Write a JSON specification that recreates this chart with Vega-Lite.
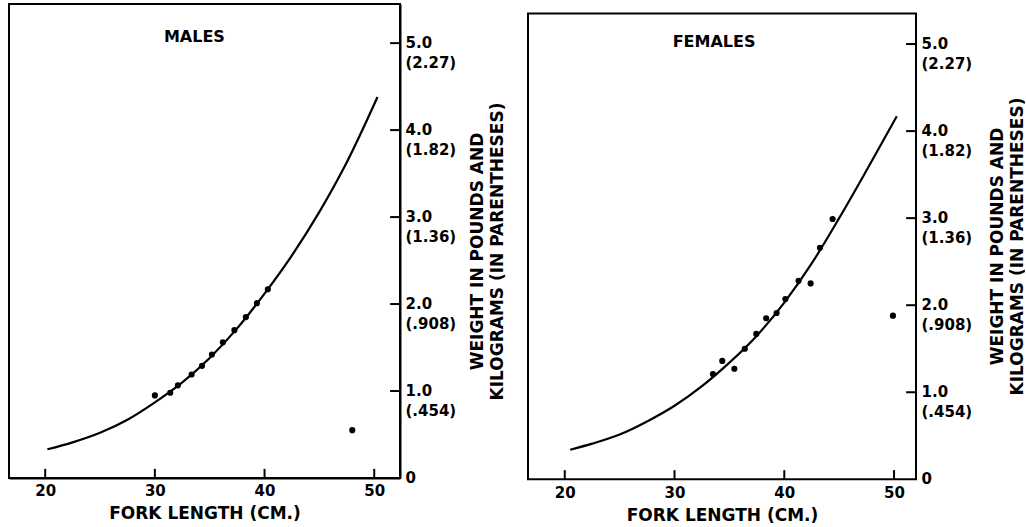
{
  "$schema": "https://vega.github.io/schema/vega-lite/v6.json",
  "background": "white",
  "padding": {"left": 8, "top": 3, "right": 0, "bottom": 0},
  "spacing": 21,
  "config": {
    "font": "DejaVu Sans",
    "view": {"stroke": "black", "strokeWidth": 2},
    "axis": {
      "grid": false,
      "ticks": false,
      "tickSize": 0,
      "domainColor": "black",
      "domainWidth": 2,
      "labelColor": "black",
      "labelFont": "DejaVu Sans",
      "labelFontSize": 15,
      "labelFontWeight": "bold",
      "labelOverlap": false,
      "labelBound": false,
      "labelFlush": false,
      "titleColor": "black",
      "titleFont": "DejaVu Sans",
      "titleFontSize": 17,
      "titleFontWeight": "bold"
    }
  },
  "datasets": {
    "maleCurve": [
      {"length": 20.2, "weight": 0.33}, {"length": 22.5, "weight": 0.41}, {"length": 25.0, "weight": 0.52},
      {"length": 27.5, "weight": 0.67}, {"length": 30.0, "weight": 0.87}, {"length": 32.5, "weight": 1.10},
      {"length": 35.0, "weight": 1.38}, {"length": 37.5, "weight": 1.72}, {"length": 40.0, "weight": 2.12},
      {"length": 42.5, "weight": 2.56}, {"length": 45.0, "weight": 3.06}, {"length": 47.5, "weight": 3.63},
      {"length": 50.3, "weight": 4.38}
    ],
    "malePts": [
      {"length": 30.0, "weight": 0.95}, {"length": 31.4, "weight": 0.98}, {"length": 32.1, "weight": 1.065},
      {"length": 33.35, "weight": 1.19}, {"length": 34.3, "weight": 1.29}, {"length": 35.2, "weight": 1.42},
      {"length": 36.2, "weight": 1.56}, {"length": 37.25, "weight": 1.70}, {"length": 38.3, "weight": 1.85},
      {"length": 39.3, "weight": 2.01}, {"length": 40.3, "weight": 2.17}, {"length": 48.0, "weight": 0.55}
    ],
    "femaleCurve": [
      {"length": 20.5, "weight": 0.34}, {"length": 22.5, "weight": 0.41}, {"length": 25.0, "weight": 0.515},
      {"length": 27.5, "weight": 0.665}, {"length": 30.0, "weight": 0.845}, {"length": 32.5, "weight": 1.07},
      {"length": 35.0, "weight": 1.34}, {"length": 37.5, "weight": 1.65}, {"length": 40.0, "weight": 2.03},
      {"length": 42.5, "weight": 2.48}, {"length": 45.0, "weight": 3.00}, {"length": 47.5, "weight": 3.55},
      {"length": 50.25, "weight": 4.17}
    ],
    "femalePts": [
      {"length": 33.5, "weight": 1.21}, {"length": 34.35, "weight": 1.36}, {"length": 35.45, "weight": 1.27},
      {"length": 36.4, "weight": 1.50}, {"length": 37.45, "weight": 1.67}, {"length": 38.35, "weight": 1.85},
      {"length": 39.3, "weight": 1.91}, {"length": 40.1, "weight": 2.07}, {"length": 41.3, "weight": 2.28},
      {"length": 42.4, "weight": 2.25}, {"length": 43.25, "weight": 2.66}, {"length": 44.4, "weight": 2.99},
      {"length": 49.9, "weight": 1.88}
    ],
    "xTicks": [{"length": 20}, {"length": 30}, {"length": 40}, {"length": 50}],
    "yTicks": [{"weight": 1}, {"weight": 2}, {"weight": 3}, {"weight": 4}, {"weight": 5}]
  },
  "hconcat": [
    {
      "width": 391,
      "height": 474,
      "resolve": {"axis": {"x": "independent", "y": "independent"}},
      "layer": [
        {
          "data": {"name": "maleCurve"},
          "mark": {"type": "line", "color": "black", "strokeWidth": 2.2, "interpolate": "monotone"},
          "encoding": {
            "x": {"field": "length", "type": "quantitative", "scale": {"domain": [16.7, 52.35], "nice": false, "zero": false},
                  "axis": {"orient": "bottom", "title": "FORK LENGTH (CM.)", "values": [20, 30, 40, 50],
                           "labelBaseline": "top", "labelPadding": 5, "titlePadding": 7}},
            "y": {"field": "weight", "type": "quantitative", "scale": {"domain": [0, 5.45], "nice": false, "zero": false},
                  "axis": {"orient": "right", "values": [0, 1, 2, 3, 4, 5],
                           "labelBaseline": "top", "labelOffset": -7.5, "labelPadding": 5, "labelAlign": "left", "labelLineHeight": 20,
                           "title": ["WEIGHT IN POUNDS AND", "KILOGRAMS (IN PARENTHESES)"],
                           "titleAngle": 270, "titleBaseline": "top", "titleLineHeight": 20, "titleX": 69, "titleY": 247,
                           "labelExpr": "datum.value == 0 ? '0' : [format(datum.value, '.1f'), datum.value == 1 ? '(.454)' : datum.value == 2 ? '(.908)' : datum.value == 3 ? '(1.36)' : datum.value == 4 ? '(1.82)' : '(2.27)']"}}
          }
        },
        {
          "data": {"name": "xTicks"},
          "mark": {"type": "rule", "color": "black", "strokeWidth": 2},
          "encoding": {
            "x": {"field": "length", "type": "quantitative", "scale": {"domain": [16.7, 52.35], "nice": false, "zero": false}, "axis": null},
            "y": {"datum": 0, "type": "quantitative", "scale": {"domain": [0, 5.45], "nice": false, "zero": false}, "axis": null},
            "y2": {"datum": 0.105}
          }
        },
        {
          "data": {"name": "yTicks"},
          "mark": {"type": "rule", "color": "black", "strokeWidth": 2},
          "encoding": {
            "y": {"field": "weight", "type": "quantitative", "scale": {"domain": [0, 5.45], "nice": false, "zero": false}, "axis": null},
            "x": {"datum": 51.45, "type": "quantitative", "scale": {"domain": [16.7, 52.35], "nice": false, "zero": false}, "axis": null},
            "x2": {"datum": 52.35}
          }
        },
        {
          "data": {"name": "malePts"},
          "mark": {"type": "circle", "color": "black", "opacity": 1, "size": 38},
          "encoding": {
            "x": {"field": "length", "type": "quantitative", "scale": {"domain": [16.7, 52.35], "nice": false, "zero": false}, "axis": null},
            "y": {"field": "weight", "type": "quantitative", "scale": {"domain": [0, 5.45], "nice": false, "zero": false}, "axis": null}
          }
        },
        {
          "data": {"values": [{"panel": "MALES", "length": 33.6, "weight": 5.07}]},
          "mark": {"type": "text", "color": "black", "font": "DejaVu Sans", "fontSize": 16, "fontWeight": "bold", "baseline": "middle", "align": "center"},
          "encoding": {
            "x": {"field": "length", "type": "quantitative", "scale": {"domain": [16.7, 52.35], "nice": false, "zero": false}, "axis": null},
            "y": {"field": "weight", "type": "quantitative", "scale": {"domain": [0, 5.45], "nice": false, "zero": false}, "axis": null},
            "text": {"field": "panel"}
          }
        }
      ]
    },
    {
      "width": 388,
      "height": 475.3,
      "view": {"stroke": null},
      "resolve": {"axis": {"x": "independent", "y": "independent"}},
      "layer": [
        {
          "data": {"values": [{}]},
          "mark": {"type": "rect", "filled": false, "stroke": "black", "strokeWidth": 2},
          "encoding": {
            "x": {"datum": 16.65, "type": "quantitative", "scale": {"domain": [16.65, 52.0], "nice": false, "zero": false},
                  "axis": {"orient": "bottom", "title": "FORK LENGTH (CM.)", "values": [20, 30, 40, 50], "domain": false,
                           "labelBaseline": "top", "labelPadding": 6, "titlePadding": 7}},
            "x2": {"datum": 52.0},
            "y": {"datum": 0, "type": "quantitative", "scale": {"domain": [0, 5.46], "nice": false, "zero": false},
                  "axis": {"orient": "right", "values": [0, 1, 2, 3, 4, 5], "domain": false,
                           "labelBaseline": "top", "labelOffset": -7.5, "labelPadding": 5, "labelAlign": "left", "labelLineHeight": 20,
                           "title": ["WEIGHT IN POUNDS AND", "KILOGRAMS (IN PARENTHESES)"],
                           "titleAngle": 270, "titleBaseline": "top", "titleLineHeight": 20, "titleX": 73, "titleY": 242,
                           "labelExpr": "datum.value == 0 ? '0' : [format(datum.value, '.1f'), datum.value == 1 ? '(.454)' : datum.value == 2 ? '(.908)' : datum.value == 3 ? '(1.36)' : datum.value == 4 ? '(1.82)' : '(2.27)']"}},
            "y2": {"datum": 5.35}
          }
        },
        {
          "data": {"name": "xTicks"},
          "mark": {"type": "rule", "color": "black", "strokeWidth": 2},
          "encoding": {
            "x": {"field": "length", "type": "quantitative", "scale": {"domain": [16.65, 52.0], "nice": false, "zero": false}, "axis": null},
            "y": {"datum": 0, "type": "quantitative", "scale": {"domain": [0, 5.46], "nice": false, "zero": false}, "axis": null},
            "y2": {"datum": 0.105}
          }
        },
        {
          "data": {"name": "yTicks"},
          "mark": {"type": "rule", "color": "black", "strokeWidth": 2},
          "encoding": {
            "y": {"field": "weight", "type": "quantitative", "scale": {"domain": [0, 5.46], "nice": false, "zero": false}, "axis": null},
            "x": {"datum": 51.1, "type": "quantitative", "scale": {"domain": [16.65, 52.0], "nice": false, "zero": false}, "axis": null},
            "x2": {"datum": 52.0}
          }
        },
        {
          "data": {"name": "femaleCurve"},
          "mark": {"type": "line", "color": "black", "strokeWidth": 2.2, "interpolate": "monotone"},
          "encoding": {
            "x": {"field": "length", "type": "quantitative", "scale": {"domain": [16.65, 52.0], "nice": false, "zero": false}, "axis": null},
            "y": {"field": "weight", "type": "quantitative", "scale": {"domain": [0, 5.46], "nice": false, "zero": false}, "axis": null}
          }
        },
        {
          "data": {"name": "femalePts"},
          "mark": {"type": "circle", "color": "black", "opacity": 1, "size": 38},
          "encoding": {
            "x": {"field": "length", "type": "quantitative", "scale": {"domain": [16.65, 52.0], "nice": false, "zero": false}, "axis": null},
            "y": {"field": "weight", "type": "quantitative", "scale": {"domain": [0, 5.46], "nice": false, "zero": false}, "axis": null}
          }
        },
        {
          "data": {"values": [{"panel": "FEMALES", "length": 33.6, "weight": 5.02}]},
          "mark": {"type": "text", "color": "black", "font": "DejaVu Sans", "fontSize": 16, "fontWeight": "bold", "baseline": "middle", "align": "center"},
          "encoding": {
            "x": {"field": "length", "type": "quantitative", "scale": {"domain": [16.65, 52.0], "nice": false, "zero": false}, "axis": null},
            "y": {"field": "weight", "type": "quantitative", "scale": {"domain": [0, 5.46], "nice": false, "zero": false}, "axis": null},
            "text": {"field": "panel"}
          }
        }
      ]
    }
  ]
}
